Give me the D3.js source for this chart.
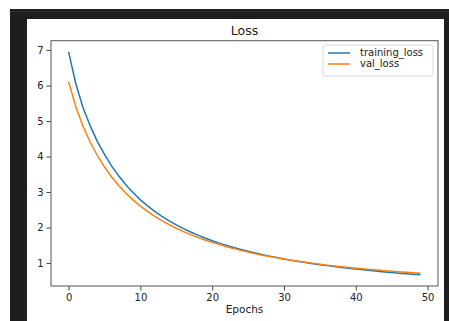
<!DOCTYPE html>
<html><head><meta charset="utf-8">
<script src="https://cdn.jsdelivr.net/npm/d3@7"></script>
<style>html,body{margin:0;padding:0;background:#fff;}svg{display:block;}</style>
</head><body>
<script>
const epochs = d3.range(0, 50);
const trainingLoss = [6.95,6.06,5.38,4.87,4.43,4.06,3.73,3.45,3.20,2.98,2.78,2.61,2.455,2.315,2.189,2.073,1.969,1.873,1.785,1.705,1.630,1.561,1.497,1.437,1.382,1.330,1.281,1.235,1.193,1.153,1.115,1.079,1.046,1.013,0.983,0.954,0.927,0.901,0.877,0.853,0.830,0.809,0.789,0.769,0.750,0.732,0.715,0.699,0.683,0.667];
const valLoss = [6.11,5.40,4.86,4.41,4.03,3.705,3.425,3.18,2.965,2.774,2.605,2.453,2.316,2.193,2.081,1.979,1.886,1.801,1.722,1.649,1.582,1.519,1.461,1.407,1.356,1.309,1.264,1.222,1.183,1.146,1.111,1.078,1.048,1.019,0.992,0.966,0.941,0.918,0.895,0.874,0.855,0.836,0.818,0.801,0.785,0.770,0.755,0.741,0.728,0.715];
const xTicks = [0,10,20,30,40,50];
const yTicks = [1,2,3,4,5,6,7];
const seriesNames = ["training_loss","val_loss"];
const seriesColors = ["#1f77b4","#ff7f0e"];
const title = "Loss";
const xLabel = "Epochs";

const W = 449, H = 321;
const svg = d3.select("body").append("svg").attr("width", W).attr("height", H)
  .style("font-family", "'DejaVu Sans', sans-serif");

// outer frame
svg.append("rect").attr("x",10).attr("y",9).attr("width",W-10).attr("height",H-9).attr("fill","#1e1e1e");
svg.append("rect").attr("x",10).attr("y",11).attr("width",W-10).attr("height",1).attr("fill","#2e2e2e");
svg.append("rect").attr("x",27).attr("y",19).attr("width",444-27).attr("height",H-19).attr("fill","#fff");

const L = 51, R = 438, T = 40.7, B = 286;
const all = trainingLoss.concat(valLoss);
const ymin = d3.min(all), ymax = d3.max(all), yr = ymax - ymin;
const x = d3.scaleLinear().domain([-2.45, 51.45]).range([L, R]);
const y = d3.scaleLinear().domain([ymin - 0.05*yr, ymax + 0.05*yr]).range([B, T]);

const gx = svg.append("g").attr("transform", `translate(0,${B})`)
  .call(d3.axisBottom(x).tickValues(xTicks).tickSize(4.5).tickPadding(3).tickFormat(d3.format("d")));
const gy = svg.append("g").attr("transform", `translate(${L},0)`)
  .call(d3.axisLeft(y).tickValues(yTicks).tickSize(4.5).tickPadding(3).tickFormat(d3.format("d")));
[gx, gy].forEach(g => {
  g.select(".domain").remove();
  g.selectAll("line").attr("stroke", "#444");
  g.selectAll("text").attr("fill", "#222").style("font-size", "10px").style("font-family", "'DejaVu Sans', sans-serif");
});

const series = [trainingLoss, valLoss];
const line = d3.line().x((d,i) => x(epochs[i])).y(d => y(d));
series.forEach((s, k) => {
  svg.append("path").datum(s).attr("d", line).attr("fill","none")
    .attr("stroke", seriesColors[k]).attr("stroke-width", 1.5);
});

// spines
svg.append("rect").attr("x", L).attr("y", T).attr("width", R-L).attr("height", B-T)
  .attr("fill","none").attr("stroke","#555").attr("stroke-width",1);

svg.append("text").attr("x", (L+R)/2).attr("y", 35).attr("text-anchor","middle")
  .attr("fill","#222").style("font-size","12.5px").text(title);
svg.append("text").attr("x", (L+R)/2).attr("y", 313).attr("text-anchor","middle")
  .attr("fill","#222").style("font-size","10.5px").text(xLabel);

// legend
const lg = svg.append("g");
lg.append("rect").attr("x",323).attr("y",45).attr("width",110).attr("height",31).attr("rx",2.5)
  .attr("fill","#fff").attr("stroke","#d8d8d8").attr("stroke-width",1);
seriesNames.forEach((n, k) => {
  const yy = 53 + k*11;
  lg.append("line").attr("x1",328).attr("x2",350).attr("y1",yy).attr("y2",yy)
    .attr("stroke", seriesColors[k]).attr("stroke-width",1.5);
  lg.append("text").attr("x",360).attr("y",yy).attr("dy","0.33em").attr("fill","#222")
    .style("font-size","10px").text(n);
});
</script>
</body></html>
